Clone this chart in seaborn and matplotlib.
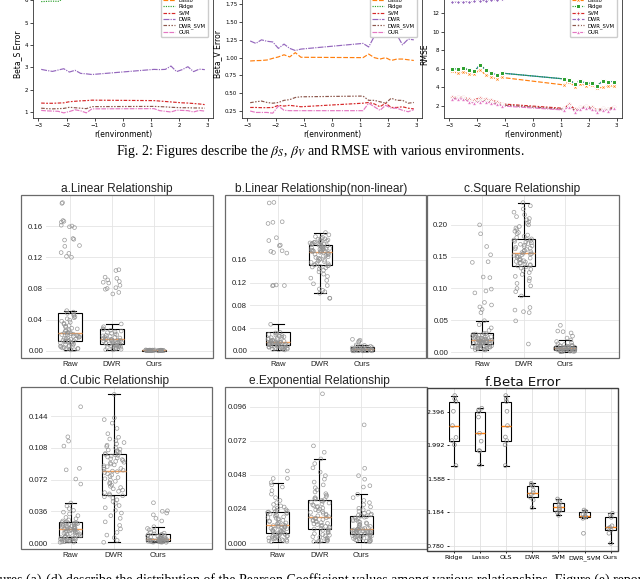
import numpy as np
import pandas as pd
import matplotlib
matplotlib.use("Agg")
import matplotlib.pyplot as plt
from matplotlib.patches import Rectangle
import seaborn as sns

np.random.seed(3)
W, H = 640, 579
plt.rcParams['mathtext.fontset'] = 'stix'

# ---------------- top line charts ----------------
r_env = [-2.9, -2.7, -2.5, -2.3, -2.1, -1.9, -1.7, -1.5, -1.3, -1.1,
         1.1, 1.3, 1.5, 1.7, 1.9, 2.1, 2.3, 2.5, 2.7, 2.9]
methods = ['OLS', 'Lasso', 'Ridge', 'SVM', 'DWR', 'DWR_SVM', 'OUR']

betaS_OLS = [6.40, 6.42, 6.41, 6.44, 6.45, 6.43, 6.46, 6.47, 6.45, 6.48, 6.50, 6.49, 6.47, 6.50, 6.52, 6.49, 6.51, 6.50, 6.48, 6.50]
betaS_Lasso = [6.20, 6.22, 6.21, 6.23, 6.25, 6.24, 6.26, 6.27, 6.25, 6.28, 6.30, 6.29, 6.27, 6.30, 6.32, 6.29, 6.31, 6.30, 6.28, 6.30]
betaS_Ridge = [5.95, 5.96, 5.97, 5.96, 6.08, 6.15, 6.20, 6.25, 6.28, 6.30, 6.35, 6.33, 6.30, 6.32, 6.35, 6.30, 6.33, 6.31, 6.34, 6.32]
betaS_SVM = [1.40, 1.39, 1.39, 1.40, 1.41, 1.46, 1.48, 1.50, 1.51, 1.53, 1.51, 1.49, 1.47, 1.45, 1.43, 1.41, 1.40, 1.38, 1.36, 1.33]
betaS_DWR = [2.91, 2.86, 2.82, 2.88, 2.94, 2.79, 2.87, 2.73, 2.71, 2.68, 2.91, 2.90, 2.91, 3.06, 2.81, 2.90, 3.03, 2.81, 2.92, 2.90]
betaS_DWR_SVM = [1.17, 1.15, 1.14, 1.15, 1.16, 1.21, 1.19, 1.17, 1.15, 1.24, 1.25, 1.24, 1.23, 1.21, 1.20, 1.19, 1.19, 1.18, 1.18, 1.17]
betaS_OUR = [1.07, 1.05, 1.04, 1.03, 0.96, 1.02, 1.10, 1.05, 0.96, 1.14, 1.15, 1.06, 1.03, 1.00, 1.08, 1.07, 1.06, 1.00, 1.07, 1.04]

betaV_OLS = [2.20, 2.21, 2.19, 2.22, 2.23, 2.21, 2.24, 2.25, 2.23, 2.26, 2.28, 2.27, 2.25, 2.28, 2.30, 2.27, 2.29, 2.28, 2.26, 2.28]
betaV_Lasso = [0.953, 0.958, 0.960, 0.967, 0.990, 1.010, 1.040, 1.010, 1.070, 1.005, 1.000, 1.050, 1.000, 0.980, 1.000, 0.960, 0.980, 0.980, 0.970, 0.960]
betaV_Ridge = [2.05, 2.06, 2.04, 2.07, 2.08, 2.06, 2.09, 2.10, 2.08, 2.11, 2.13, 2.12, 2.10, 2.13, 2.15, 2.12, 2.14, 2.13, 2.11, 2.13]
betaV_SVM = [0.300, 0.300, 0.297, 0.297, 0.300, 0.330, 0.320, 0.330, 0.320, 0.310, 0.360, 0.370, 0.350, 0.310, 0.360, 0.300, 0.300, 0.310, 0.290, 0.280]
betaV_DWR = [1.234, 1.200, 1.250, 1.230, 1.220, 1.130, 1.190, 1.130, 1.100, 1.120, 1.200, 1.150, 1.300, 1.380, 1.400, 1.380, 1.320, 1.180, 1.260, 1.250]
betaV_DWR_SVM = [0.367, 0.380, 0.390, 0.370, 0.360, 0.370, 0.400, 0.410, 0.440, 0.450, 0.460, 0.400, 0.400, 0.380, 0.360, 0.430, 0.400, 0.400, 0.360, 0.370]
betaV_OUR = [0.250, 0.230, 0.230, 0.230, 0.220, 0.320, 0.260, 0.255, 0.255, 0.255, 0.255, 0.360, 0.310, 0.260, 0.330, 0.290, 0.290, 0.260, 0.240, 0.270]

rmse_OLS = [6.02, 5.99, 6.09, 5.91, 5.73, 6.46, 5.91, 5.60, 5.37, 5.55, 4.93, 4.85, 4.39, 4.72, 4.46, 4.46, 4.17, 4.72, 4.64, 4.64]
rmse_Lasso = [5.73, 5.55, 5.66, 5.48, 5.48, 5.91, 5.37, 5.10, 4.93, 5.08, 4.28, 4.64, 4.03, 4.39, 4.17, 4.28, 3.92, 4.03, 4.17, 4.17]
rmse_Ridge = [6.02, 5.99, 6.09, 5.91, 5.73, 6.46, 5.91, 5.60, 5.37, 5.55, 4.93, 4.85, 4.39, 4.72, 4.46, 4.46, 4.17, 4.72, 4.64, 4.64]
rmse_SVM = [2.94, 2.94, 3.01, 2.72, 2.65, 2.90, 2.76, 2.65, 2.47, 2.22, 1.75, 2.18, 1.64, 1.86, 2.00, 1.86, 1.57, 1.75, 1.67, 1.93]
rmse_DWR = [13.20, 13.22, 13.25, 13.25, 13.30, 13.35, 13.40, 13.45, 13.50, 13.60, 13.90, 13.80, 13.55, 13.45, 13.60, 13.70, 13.80, 13.85, 13.90, 13.95]
rmse_DWR_SVM = [2.80, 2.82, 2.85, 2.55, 2.40, 2.60, 2.55, 2.40, 2.25, 2.10, 1.65, 2.05, 1.50, 1.78, 1.90, 1.72, 1.48, 1.66, 1.58, 1.82]
rmse_OUR = [2.76, 2.76, 2.76, 2.47, 2.29, 2.47, 2.47, 2.29, 2.18, 2.00, 1.57, 1.93, 1.38, 1.67, 1.82, 1.64, 1.38, 1.57, 1.49, 1.75]

# ---------------- box panels ----------------
groups3 = ['Raw', 'DWR', 'Ours']

a_raw = [0.0013, 0.0016, 0.0019, 0.0024, 0.0028, 0.0033, 0.0039, 0.0044, 0.0051, 0.0057, 0.0063, 0.0070, 0.0076, 0.0083, 0.0089, 0.0096, 0.0103, 0.0109, 0.0116, 0.0122,
         0.0128, 0.0131, 0.0136, 0.0140, 0.0147, 0.0152, 0.0158, 0.0163, 0.0169, 0.0174, 0.0181, 0.0187, 0.0192, 0.0198, 0.0204, 0.0210, 0.0216, 0.0222, 0.0227, 0.0231,
         0.0235, 0.0245, 0.0252, 0.0261, 0.0270, 0.0283, 0.0291, 0.0305, 0.0318, 0.0326, 0.0342, 0.0355, 0.0367, 0.0381, 0.0394, 0.0412, 0.0425, 0.0438, 0.0455, 0.0470,
         0.0482, 0.0498, 0.0516, 0.120, 0.121, 0.125, 0.126, 0.134, 0.135, 0.142, 0.143, 0.144, 0.158, 0.159, 0.160, 0.161, 0.165, 0.166, 0.167, 0.189, 0.190]
a_dwr = [0.0013, 0.0017, 0.0022, 0.0027, 0.0032, 0.0037, 0.0042, 0.0048, 0.0053, 0.0058, 0.0063, 0.0068, 0.0073, 0.0078, 0.0082, 0.0086,
         0.0090, 0.0093, 0.0097, 0.0101, 0.0105, 0.0109, 0.0113, 0.0117, 0.0121, 0.0126, 0.0131, 0.0136, 0.0140, 0.0144, 0.0148, 0.0151,
         0.0154, 0.0160, 0.0166, 0.0172, 0.0179, 0.0186, 0.0193, 0.0201, 0.0210, 0.0218, 0.0226, 0.0235, 0.0244, 0.0255, 0.0266, 0.0277,
         0.0286, 0.0310, 0.0346, 0.073, 0.075, 0.079, 0.080, 0.081, 0.084, 0.087, 0.088, 0.089, 0.091, 0.093, 0.0945, 0.103, 0.104]
a_ours = [0.0001, 0.0002, 0.0002, 0.0003, 0.0003, 0.0004, 0.0004, 0.0004, 0.0005, 0.0005, 0.0005, 0.0006, 0.0006, 0.0006, 0.0007,
          0.0007, 0.0007, 0.0008, 0.0008, 0.0008, 0.0009, 0.0009, 0.0010, 0.0010, 0.0011, 0.0011, 0.0012, 0.0012, 0.0013, 0.0014]

b_raw = [0.0018, 0.0022, 0.0027, 0.0031, 0.0036, 0.0041, 0.0046, 0.0051, 0.0056, 0.0061, 0.0066, 0.0071, 0.0076, 0.0081, 0.0086, 0.0091, 0.0096, 0.0101,
         0.0106, 0.0108, 0.0111, 0.0114, 0.0117, 0.0120, 0.0124, 0.0127, 0.0130, 0.0134, 0.0138, 0.0141, 0.0145, 0.0148, 0.0152, 0.0155, 0.0158, 0.0161,
         0.0164, 0.0170, 0.0177, 0.0185, 0.0192, 0.0200, 0.0208, 0.0216, 0.0224, 0.0233, 0.0241, 0.0250, 0.0260, 0.0270, 0.0280, 0.0292, 0.0305, 0.0317,
         0.0328, 0.0469, 0.1145, 0.115, 0.1155, 0.116, 0.172, 0.173, 0.175, 0.176, 0.185, 0.186, 0.194, 0.199, 0.224, 0.226, 0.227, 0.260, 0.261]
b_dwr = [0.0926, 0.0928, 0.1014, 0.1040, 0.1065, 0.1090, 0.1150, 0.1180, 0.1240, 0.1280, 0.1310, 0.1350, 0.1390, 0.1420, 0.1440, 0.1460, 0.1475, 0.1485, 0.1495, 0.1503,
         0.1510, 0.1520, 0.1532, 0.1545, 0.1557, 0.1570, 0.1582, 0.1595, 0.1607, 0.1619, 0.1631, 0.1643, 0.1655, 0.1667, 0.1678, 0.1689, 0.1700, 0.1712, 0.1723, 0.1733,
         0.1740, 0.1745, 0.1750, 0.1756, 0.1762, 0.1768, 0.1773, 0.1779, 0.1785, 0.1791, 0.1797, 0.1803, 0.1809, 0.1815, 0.1821, 0.1828, 0.1835, 0.1843, 0.1850, 0.1857,
         0.1864, 0.1870, 0.1875, 0.1881, 0.1886, 0.1892, 0.1898, 0.1904, 0.1911, 0.1918, 0.1925, 0.1933, 0.1941, 0.1950, 0.1960, 0.1970, 0.1982, 0.1995, 0.2010, 0.2040, 0.2080]
b_ours = [0.0001, 0.0001, 0.0002, 0.0002, 0.0003, 0.0003, 0.0004, 0.0004, 0.0005, 0.0005, 0.0006,
          0.0008, 0.0010, 0.0013, 0.0015, 0.0018, 0.0021, 0.0023, 0.0026, 0.0028, 0.0030,
          0.0033, 0.0036, 0.0040, 0.0043, 0.0047, 0.0050, 0.0054, 0.0058, 0.0062, 0.0065,
          0.0070, 0.0075, 0.0082, 0.0090, 0.0098, 0.0106, 0.0160, 0.0175, 0.0190, 0.0205]

c_raw = [0.0031, 0.0035, 0.0040, 0.0044, 0.0049, 0.0053, 0.0058, 0.0062, 0.0067, 0.0071, 0.0076, 0.0080, 0.0085, 0.0089, 0.0094, 0.0098, 0.0103, 0.0108, 0.0114, 0.0120,
         0.0126, 0.0129, 0.0132, 0.0135, 0.0139, 0.0142, 0.0145, 0.0149, 0.0152, 0.0155, 0.0159, 0.0162, 0.0165, 0.0169, 0.0172, 0.0175, 0.0178, 0.0181, 0.0184, 0.0187,
         0.0189, 0.0193, 0.0197, 0.0201, 0.0206, 0.0210, 0.0215, 0.0220, 0.0225, 0.0230, 0.0236, 0.0241, 0.0247, 0.0253, 0.0259, 0.0265, 0.0272, 0.0278, 0.0284, 0.0290,
         0.0294, 0.0340, 0.0380, 0.0430, 0.0493, 0.062, 0.067, 0.071, 0.074, 0.078, 0.093, 0.096, 0.099, 0.117, 0.118, 0.141, 0.142, 0.153, 0.166, 0.186, 0.200]
c_dwr = [0.0126, 0.0490, 0.0620, 0.0635, 0.0660, 0.0700, 0.0882, 0.0950, 0.1000, 0.1040, 0.1080, 0.1120, 0.1160, 0.1190, 0.1220, 0.1250, 0.1280, 0.1300, 0.1320, 0.1340,
         0.1354, 0.1363, 0.1374, 0.1384, 0.1395, 0.1405, 0.1415, 0.1425, 0.1436, 0.1446, 0.1456, 0.1467, 0.1477, 0.1488, 0.1498, 0.1509, 0.1519, 0.1530, 0.1540, 0.1548,
         0.1554, 0.1565, 0.1577, 0.1588, 0.1600, 0.1612, 0.1623, 0.1635, 0.1647, 0.1658, 0.1670, 0.1682, 0.1694, 0.1706, 0.1718, 0.1730, 0.1742, 0.1754, 0.1762, 0.1771,
         0.1780, 0.1800, 0.1820, 0.1840, 0.1860, 0.1880, 0.1900, 0.1925, 0.1950, 0.1975, 0.2000, 0.2025, 0.2050, 0.2080, 0.2100, 0.2130, 0.2160, 0.2200, 0.2250, 0.2300, 0.2350]
c_ours = [0.0005, 0.0007, 0.0009, 0.0011, 0.0013, 0.0015, 0.0017, 0.0019, 0.0022, 0.0024, 0.0026, 0.0029,
          0.0031, 0.0033, 0.0035, 0.0037, 0.0040, 0.0042, 0.0044, 0.0047, 0.0049, 0.0051, 0.0054, 0.0056,
          0.0058, 0.0061, 0.0064, 0.0068, 0.0071, 0.0075, 0.0078, 0.0082, 0.0085, 0.0089, 0.0093, 0.0097,
          0.0100, 0.0108, 0.0118, 0.0130, 0.0145, 0.0165, 0.0189, 0.022, 0.025, 0.030, 0.032, 0.033, 0.042]

d_raw = [0.0008, 0.0010, 0.0012, 0.0015, 0.0018, 0.0021, 0.0024, 0.0027, 0.0030, 0.0033, 0.0036, 0.0039, 0.0042, 0.0045, 0.0049, 0.0053, 0.0057, 0.0061, 0.0065, 0.0069,
         0.0072, 0.0076, 0.0081, 0.0085, 0.0090, 0.0094, 0.0099, 0.0103, 0.0108, 0.0112, 0.0117, 0.0121, 0.0126, 0.0130, 0.0135, 0.0139, 0.0144, 0.0148, 0.0152, 0.0156,
         0.0159, 0.0162, 0.0166, 0.0170, 0.0174, 0.0178, 0.0182, 0.0186, 0.0190, 0.0194, 0.0198, 0.0202, 0.0206, 0.0210, 0.0214, 0.0218, 0.0222, 0.0226, 0.0229, 0.0232,
         0.0234, 0.0240, 0.0250, 0.0262, 0.0275, 0.0290, 0.0310, 0.0330, 0.0350, 0.0370, 0.0390, 0.0420, 0.0454, 0.0669, 0.0726, 0.0830, 0.0847, 0.1100, 0.1156, 0.1205, 0.1546]
d_dwr = [0.0008, 0.0030, 0.0060, 0.0090, 0.0120, 0.0160, 0.0200, 0.0240, 0.0280, 0.0310, 0.0340, 0.0370, 0.0400, 0.0425, 0.0450, 0.0470, 0.0490, 0.0510, 0.0525, 0.0536,
         0.0544, 0.0558, 0.0572, 0.0586, 0.0600, 0.0615, 0.0629, 0.0643, 0.0658, 0.0672, 0.0686, 0.0700, 0.0715, 0.0729, 0.0743, 0.0757, 0.0772, 0.0786, 0.0800, 0.0810,
         0.0816, 0.0826, 0.0836, 0.0846, 0.0856, 0.0866, 0.0876, 0.0886, 0.0896, 0.0906, 0.0916, 0.0926, 0.0936, 0.0946, 0.0956, 0.0966, 0.0976, 0.0986, 0.0994, 0.1000,
         0.1006, 0.1015, 0.1025, 0.1035, 0.1045, 0.1055, 0.1065, 0.1080, 0.1095, 0.1110, 0.1125, 0.1140, 0.1160, 0.1180, 0.1200, 0.1240, 0.1300, 0.1360, 0.1400, 0.1420, 0.1686]
d_ours = [0.0008, 0.0009, 0.0010, 0.0011, 0.0012, 0.0013, 0.0014, 0.0015, 0.0016, 0.0017, 0.0018, 0.0019, 0.0020, 0.0022,
          0.0023, 0.0025, 0.0026, 0.0028, 0.0030, 0.0031, 0.0033, 0.0035, 0.0036, 0.0038, 0.0040, 0.0041, 0.0042, 0.0044,
          0.0045, 0.0049, 0.0053, 0.0057, 0.0061, 0.0065, 0.0069, 0.0073, 0.0077, 0.0081, 0.0085, 0.0089, 0.0092, 0.0095,
          0.0098, 0.0104, 0.0112, 0.0122, 0.0135, 0.0150, 0.0165, 0.0185, 0.0250, 0.0280, 0.0320, 0.0340, 0.0360, 0.0366, 0.0457]

e_raw = [0.0009, 0.0012, 0.0015, 0.0018, 0.0021, 0.0024, 0.0027, 0.0030, 0.0033, 0.0036, 0.0039, 0.0042, 0.0045, 0.0048, 0.0051, 0.0054, 0.0057, 0.0060, 0.0063, 0.0066,
         0.0068, 0.0071, 0.0074, 0.0077, 0.0080, 0.0083, 0.0086, 0.0089, 0.0092, 0.0095, 0.0098, 0.0101, 0.0104, 0.0107, 0.0110, 0.0114, 0.0117, 0.0120, 0.0123, 0.0126,
         0.0129, 0.0133, 0.0137, 0.0142, 0.0146, 0.0151, 0.0155, 0.0160, 0.0165, 0.0170, 0.0175, 0.0180, 0.0185, 0.0190, 0.0195, 0.0200, 0.0205, 0.0209, 0.0213, 0.0216,
         0.0219, 0.0222, 0.0226, 0.0230, 0.0235, 0.0241, 0.0247, 0.0254, 0.0262, 0.0272, 0.0285, 0.0300, 0.0320, 0.0345, 0.0370, 0.0395, 0.0410, 0.0426, 0.0455, 0.0456, 0.0508]
e_dwr = [0.0009, 0.0010, 0.0012, 0.0014, 0.0016, 0.0020, 0.0025, 0.0030, 0.0035, 0.0040, 0.0045, 0.0050, 0.0055, 0.0060, 0.0066, 0.0072, 0.0078, 0.0084, 0.0090, 0.0095,
         0.0099, 0.0103, 0.0108, 0.0112, 0.0117, 0.0121, 0.0126, 0.0130, 0.0135, 0.0139, 0.0144, 0.0148, 0.0153, 0.0157, 0.0162, 0.0166, 0.0171, 0.0175, 0.0179, 0.0183,
         0.0186, 0.0192, 0.0198, 0.0204, 0.0210, 0.0216, 0.0222, 0.0228, 0.0234, 0.0240, 0.0246, 0.0252, 0.0258, 0.0264, 0.0270, 0.0276, 0.0282, 0.0288, 0.0294, 0.0300,
         0.0306, 0.0310, 0.0314, 0.0320, 0.0328, 0.0338, 0.0348, 0.0360, 0.0375, 0.0390, 0.0410, 0.0430, 0.0450, 0.0475, 0.0500, 0.0530, 0.0560, 0.0593, 0.0640, 0.0685, 0.1052]
e_ours = [0.0009, 0.0011, 0.0014, 0.0017, 0.0020, 0.0023, 0.0026, 0.0029, 0.0032, 0.0035, 0.0038, 0.0041, 0.0044, 0.0046, 0.0048, 0.0050, 0.0052, 0.0055, 0.0057, 0.0059,
          0.0061, 0.0063, 0.0065, 0.0067, 0.0069, 0.0071, 0.0073, 0.0075, 0.0077, 0.0079, 0.0081, 0.0083, 0.0085, 0.0087, 0.0089, 0.0091, 0.0093, 0.0095, 0.0096, 0.0098,
          0.0099, 0.0103, 0.0107, 0.0112, 0.0117, 0.0122, 0.0127, 0.0132, 0.0137, 0.0142, 0.0147, 0.0152, 0.0157, 0.0162, 0.0167, 0.0172, 0.0177, 0.0182, 0.0186, 0.0190,
          0.0193, 0.0196, 0.0199, 0.0204, 0.0210, 0.0218, 0.0225, 0.0235, 0.0245, 0.0255, 0.0270, 0.0285, 0.0300, 0.0320, 0.0344, 0.0395, 0.0404, 0.0450, 0.0475, 0.0527, 0.0833]

f_methods = ['Ridge', 'Lasso', 'OLS', 'DWR', 'SVM', 'DWR_SVM', 'Ours']
f_ridge = [1.745, 1.995, 2.046, 2.085, 2.227, 2.400, 2.517, 2.549, 2.589]
f_lasso = [1.753, 1.920, 1.926, 2.040, 2.135, 2.330, 2.396, 2.415, 2.437]
f_ols = [1.745, 1.995, 2.046, 2.090, 2.227, 2.400, 2.517, 2.549, 2.589]
f_dwr = [1.238, 1.330, 1.363, 1.395, 1.419, 1.450, 1.500, 1.515, 1.532]
f_svm = [1.146, 1.180, 1.198, 1.220, 1.243, 1.270, 1.299, 1.320, 1.343]
f_dwr_svm = [0.929, 1.110, 1.122, 1.130, 1.138, 1.160, 1.183, 1.195, 1.210]
f_ours = [0.809, 0.930, 0.969, 0.990, 1.002, 1.020, 1.122, 1.150, 1.171]

# ---------------- figure ----------------
fig = plt.figure(figsize=(W / 100, H / 100), dpi=100)


def rect(x0, y0, x1, y1):
    return [x0 / W, 1 - y1 / H, (x1 - x0) / W, (y1 - y0) / H]


def line_df(series):
    rows = []
    for m, vals in zip(methods, series):
        for r, v in zip(r_env, vals):
            rows.append((r, v, m))
    return pd.DataFrame(rows, columns=['r', 'val', 'method'])


top_specs = [
    ((33, -10, 213, 118), [betaS_OLS, betaS_Lasso, betaS_Ridge, betaS_SVM, betaS_DWR, betaS_DWR_SVM, betaS_OUR],
     'Beta_S Error', (0.73, 6.47), [1, 2, 3, 4, 5, 6], False),
    ((242, -10, 422, 118), [betaV_OLS, betaV_Lasso, betaV_Ridge, betaV_SVM, betaV_DWR, betaV_DWR_SVM, betaV_OUR],
     'Beta_V Error', (0.152, 1.95), [0.25, 0.5, 0.75, 1.0, 1.25, 1.5, 1.75], False),
    ((444, -10, 622, 118), [rmse_OLS, rmse_Lasso, rmse_Ridge, rmse_SVM, rmse_DWR, rmse_DWR_SVM, rmse_OUR],
     'RMSE', (0.70, 14.54), [2, 4, 6, 8, 10, 12, 14], True),
]

for (box, series, ylab, ylim, yt, mk) in top_specs:
    ax = fig.add_axes(rect(*box))
    df = line_df(series)
    sns.lineplot(data=df, x='r', y='val', hue='method', style='method',
                 hue_order=methods, style_order=methods, palette='tab10',
                 markers=mk, markersize=3.2, linewidth=0.85, ax=ax)
    ax.set_ylim(*ylim)
    ax.set_yticks(yt)
    ax.set_xticks([-3, -2, -1, 0, 1, 2, 3])
    ax.set_xlim(-3.19, 3.19)
    ax.tick_params(labelsize=4, length=2, width=0.5, pad=1.5)
    for s in ax.spines.values():
        s.set_linewidth(0.6)
        s.set_color('#333333')
    ax.set_xlabel('r(environment)', fontsize=5.5, labelpad=1.5)
    ax.set_ylabel(ylab, fontsize=5.5, labelpad=2)
    h, l = ax.get_legend_handles_labels()
    ax.legend(h, l, loc='lower right', bbox_to_anchor=(0.985, 0.61), fontsize=3.8,
              labelspacing=0.25, handlelength=2.4, handletextpad=0.6, borderpad=0.4,
              frameon=True, edgecolor='#cccccc', framealpha=1, fancybox=True)

fig.text(320 / W, 1 - 151.5 / H,
         r"Fig. 2: Figures describe the $\beta_S$, $\beta_V$ and RMSE with various environments.",
         ha='center', va='center', fontsize=10, family='Liberation Serif')

box_specs = [
    ((21, 195, 213, 358), 46, 'a.Linear Relationship', (117, 189), [a_raw, a_dwr, a_ours],
     (-0.009, 0.1997), [0.0, 0.04, 0.08, 0.12, 0.16], '{:.2f}', (-0.571, 3.405)),
    ((225, 195, 426, 358), 250, 'b.Linear Relationship(non-linear)', (321, 189), [b_raw, b_dwr, b_ours],
     (-0.0123, 0.274), [0.0, 0.04, 0.08, 0.12, 0.16], '{:.2f}', (-0.667, 3.52)),
    ((427, 195, 619, 358), 451, 'c.Square Relationship', (522, 189), [c_raw, c_dwr, c_ours],
     (-0.0094, 0.247), [0.0, 0.05, 0.10, 0.15, 0.20], '{:.2f}', (-0.747, 3.30)),
    ((21, 387, 212, 549), 51, 'd.Cubic Relationship', (115, 381), [d_raw, d_dwr, d_ours],
     (-0.0068, 0.177), [0.0, 0.036, 0.072, 0.108, 0.144], '{:.3f}', (-0.448, 3.25)),
    ((225, 387, 427, 549), 250, 'e.Exponential Relationship', (319, 381), [e_raw, e_dwr, e_ours],
     (-0.0042, 0.110), [0.0, 0.024, 0.048, 0.072, 0.096], '{:.3f}', (-0.655, 3.56)),
]

for (frame, inner_left, title, tc, data, ylim, yt, fmt, xlim) in box_specs:
    x0, y0, x1, y1 = frame
    ax = fig.add_axes(rect(inner_left, y0, x1, y1))
    df = pd.DataFrame({'group': sum([[g] * len(d) for g, d in zip(groups3, data)], []),
                       'value': sum(data, [])})
    sns.boxplot(data=df, x='group', y='value', order=groups3, color='white', saturation=1,
                linecolor='black', linewidth=0.8, width=0.55, showfliers=False,
                medianprops={'color': '#f3a05c', 'linewidth': 1.0}, ax=ax)
    n0 = len(ax.collections)
    sns.stripplot(data=df, x='group', y='value', order=groups3, color='#909090', size=2.7,
                  jitter=0.24, linewidth=0.5, edgecolor='#909090', alpha=0.9, ax=ax, zorder=3)
    for c in ax.collections[n0:]:
        c.set_facecolor('none')
    ax.set_xlim(*xlim)
    ax.set_ylim(*ylim)
    ax.set_yticks(yt)
    ax.set_yticklabels([fmt.format(v) for v in yt])
    ax.set_xlabel('')
    ax.set_ylabel('')
    ax.grid(True, color='#e4e4e4', linewidth=0.6)
    ax.set_axisbelow(True)
    for s in ax.spines.values():
        s.set_visible(False)
    ax.tick_params(length=0, labelsize=5.6, pad=2, labelcolor='#222222')
    for lab in ax.get_xticklabels() + ax.get_yticklabels():
        lab.set_family('Liberation Sans')
    fig.add_artist(Rectangle((x0 / W, 1 - y1 / H), (x1 - x0) / W, (y1 - y0) / H,
                             transform=fig.transFigure, fill=False, edgecolor='#6a6a6a', linewidth=0.9))
    fig.text(tc[0] / W, 1 - tc[1] / H, title, ha='center', va='center', fontsize=8.6,
             family='Liberation Sans', color='#222222')

# panel f
x0, y0, x1, y1 = 427, 388, 618, 551
ax = fig.add_axes(rect(449, y0, x1, y1))
f_data = [f_ridge, f_lasso, f_ols, f_dwr, f_svm, f_dwr_svm, f_ours]
dff = pd.DataFrame({'method': sum([[m] * len(d) for m, d in zip(f_methods, f_data)], []),
                    'value': sum(f_data, [])})
sns.boxplot(data=dff, x='method', y='value', order=f_methods, color='white', saturation=1,
            linecolor='black', linewidth=0.8, width=0.4, showfliers=False,
            medianprops={'color': '#ff7f0e', 'linewidth': 1.0}, ax=ax)
n0 = len(ax.collections)
sns.stripplot(data=dff, x='method', y='value', order=f_methods, color='#8d8d8d', size=2.7,
              jitter=0.08, linewidth=0.5, edgecolor='#8d8d8d', ax=ax, zorder=3)
for c in ax.collections[n0:]:
    c.set_facecolor('none')
ax.set_xlim(-0.19, 6.28)
ax.set_ylim(0.716, 2.68)
fyt = [0.780, 1.184, 1.588, 1.992, 2.396]
ax.set_yticks(fyt)
ax.set_yticklabels(['{:.3f}'.format(v) for v in fyt])
ax.set_xlabel('')
ax.set_ylabel('')
ax.grid(True, color='#e0e0e0', linewidth=0.6)
ax.set_axisbelow(True)
for s in ax.spines.values():
    s.set_visible(False)
ax.tick_params(axis='y', length=1.5, width=0.6, labelsize=4.6, pad=1.5)
ax.tick_params(axis='x', length=1.5, width=0.6, labelsize=4.6, pad=1.5)
fig.add_artist(Rectangle((x0 / W, 1 - y1 / H), (x1 - x0) / W, (y1 - y0) / H,
                         transform=fig.transFigure, fill=False, edgecolor='#404040', linewidth=1.0))
fig.text(523 / W, 1 - 382 / H, 'f.Beta Error', ha='center', va='center', fontsize=9.5, color='#111111')

fig.text(-19 / W, 1 - 573 / H,
         "Figures (a)-(d) describe the distribution of the Pearson Coefficient values among various relationships. Figure (e) reports the",
         ha='left', va='top', fontsize=10, family='Liberation Serif')

fig.savefig('out.png', dpi=100)
